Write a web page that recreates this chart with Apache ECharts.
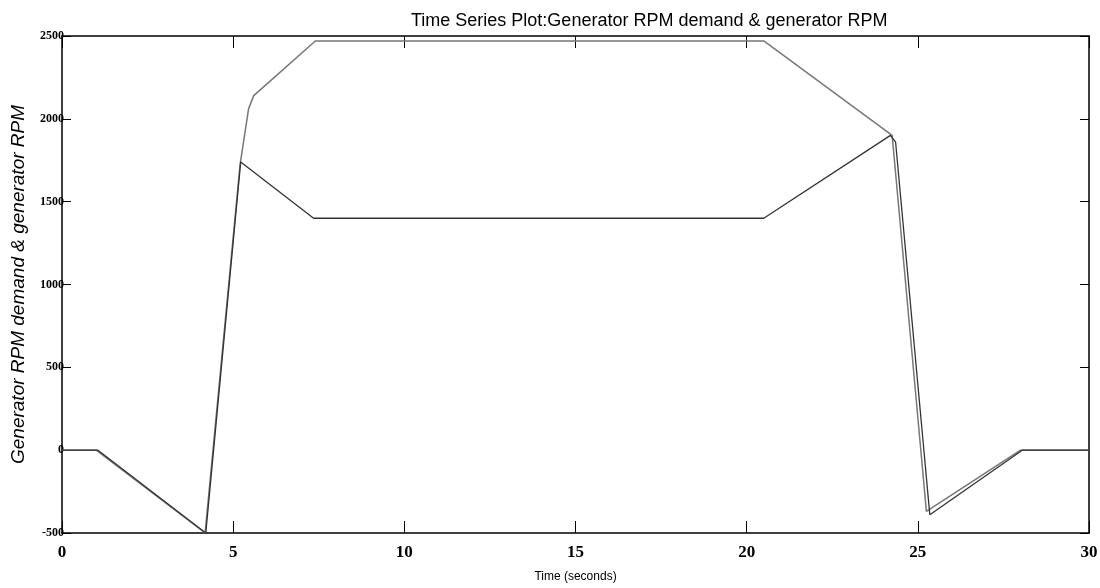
<!doctype html>
<html lang="en">
<head>
    <meta charset="UTF-8">
    <title>Generator RPM</title>
    <script src="https://cdn.jsdelivr.net/npm/echarts@6/dist/echarts.min.js"></script>
    <style>
        html, body { margin: 0; padding: 0; background: #fff; }
        #main { width: 1100px; height: 588px; }
    </style>
</head>
<body>
<div id="main"></div>
<script>
    // time (s) / rpm pairs
    var demandTime = [0, 1.0, 4.18, 5.2, 5.45, 5.6, 7.4, 20.5, 24.25, 25.25, 28.0, 30];
    var demandRpm  = [0, 0, -500, 1720, 2060, 2140, 2470, 2470, 1900, -370, 0, 0];

    var genTime = [0, 1.05, 4.2, 5.22, 7.35, 20.5, 24.2, 24.35, 25.35, 28.05, 30];
    var genRpm  = [0, 0, -500, 1740, 1400, 1400, 1900, 1860, -390, 0, 0];

    var xTicks = [0, 5, 10, 15, 20, 25, 30];
    var yTicks = [-500, 0, 500, 1000, 1500, 2000, 2500];

    function pairs(t, v) {
        var out = [];
        for (var i = 0; i < t.length; i++) out.push([t[i], v[i]]);
        return out;
    }

    var myChart = echarts.init(document.getElementById('main'));
    var boxLine = { show: true, onZero: false, lineStyle: { color: '#000', width: 1.5 } };
    var tickIn = { show: true, inside: true, length: 12, lineStyle: { color: '#000', width: 1 } };

    var option = {
        animation: false,
        title: {
            text: 'Time Series Plot:Generator RPM demand & generator RPM',
            left: 406,
            top: 7,
            textStyle: { fontFamily: 'Liberation Sans', fontSize: 18, fontWeight: 'normal', color: '#000' }
        },
        grid: { left: 62, right: 11, top: 36, bottom: 55, outerBoundsMode: 'none', containLabel: false },
        xAxis: [
            {
                type: 'value',
                min: 0, max: 30, interval: 5,
                axisLine: boxLine,
                axisTick: tickIn,
                splitLine: { show: false },
                axisLabel: {
                    color: '#000', fontFamily: 'Liberation Serif', fontWeight: 'bold', fontSize: 17, margin: 11,
                    formatter: function (v) { return xTicks.indexOf(v) >= 0 ? String(v) : ''; }
                },
                name: 'Time (seconds)',
                nameLocation: 'middle',
                nameGap: 38,
                nameTextStyle: { fontFamily: 'Liberation Sans', fontSize: 12, color: '#000' }
            },
            {
                type: 'value', position: 'top',
                min: 0, max: 30, interval: 5,
                axisLine: boxLine,
                axisTick: tickIn,
                axisLabel: { show: false },
                splitLine: { show: false }
            }
        ],
        yAxis: [
            {
                type: 'value',
                min: -500, max: 2500, interval: 500,
                axisLine: boxLine,
                axisTick: { show: true, inside: true, length: 9, lineStyle: { color: '#000' } },
                splitLine: { show: false },
                axisLabel: {
                    color: '#000', fontFamily: 'Liberation Serif', fontWeight: 'bold', fontSize: 12, margin: -2,
                    formatter: function (v) { return yTicks.indexOf(v) >= 0 ? String(v) : ''; }
                },
                name: 'Generator RPM demand & generator RPM',
                nameLocation: 'middle',
                nameGap: 34,
                nameTextStyle: { fontFamily: 'Liberation Sans', fontSize: 19, fontStyle: 'italic', color: '#000' }
            },
            {
                type: 'value', position: 'right',
                min: -500, max: 2500, interval: 500,
                axisLine: boxLine,
                axisTick: { show: true, inside: true, length: 9, lineStyle: { color: '#000' } },
                axisLabel: { show: false },
                splitLine: { show: false }
            }
        ],
        series: [
            {
                name: 'Generator RPM demand',
                type: 'line',
                data: pairs(demandTime, demandRpm),
                showSymbol: false,
                lineStyle: { color: '#777', width: 1.5 }
            },
            {
                name: 'generator RPM',
                type: 'line',
                data: pairs(genTime, genRpm),
                showSymbol: false,
                lineStyle: { color: '#333', width: 1.3 }
            }
        ]
    };
    myChart.setOption(option);
</script>
</body>
</html>
